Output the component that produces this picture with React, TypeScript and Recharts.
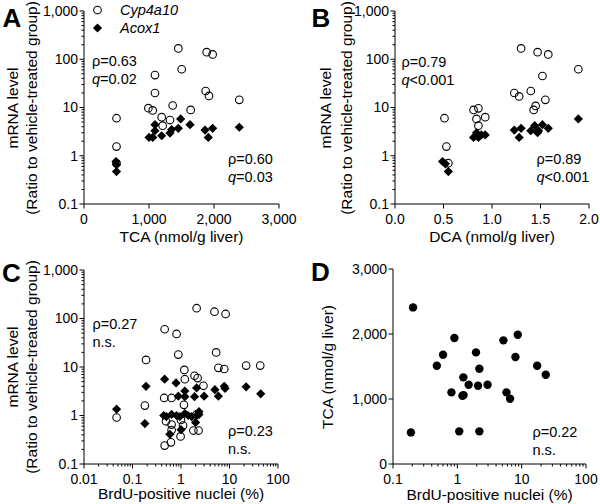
import React from 'react'
import { ScatterChart, Scatter, XAxis, YAxis } from 'recharts'

const FONT = '"Liberation Sans", Arial, Helvetica, sans-serif'

// A: TCA (nmol/g liver) vs mRNA ratio
const aCypTca = [500, 500, 500, 990, 1057, 1092, 1092, 1195, 1210, 1323, 1364, 1451, 1503, 1641, 1872, 1887, 1923, 1979, 2389]
const aCypMrna = [6.0, 1.55, 0.7, 9.7, 8.7, 47, 20, 6.3, 4.2, 5.5, 11, 168, 62, 8.9, 22, 140, 17.4, 126, 14.4]
const aAcoxTca = [492, 500, 500, 1000, 1057, 1092, 1092, 1195, 1323, 1349, 1451, 1487, 1631, 1862, 1912, 1979, 2389]
const aAcoxMrna = [0.76, 0.65, 0.47, 2.4, 2.4, 4.4, 3.3, 2.6, 2.95, 3.5, 3.7, 5.8, 4.4, 3.4, 2.4, 3.7, 3.9]

// B: DCA (nmol/g liver) vs mRNA ratio
const bCypDca = [0.51, 0.53, 0.55, 0.81, 0.86, 0.84, 0.86, 0.93, 1.23, 1.28, 1.3, 1.4, 1.43, 1.45, 1.47, 1.52, 1.55, 1.58, 1.89]
const bCypMrna = [6.0, 1.55, 0.7, 8.9, 9.6, 5.8, 4.2, 6.3, 20, 17, 168, 22, 8.9, 10.8, 140, 45, 14.4, 126, 62]
const bAcoxDca = [0.49, 0.52, 0.55, 0.81, 0.84, 0.86, 0.89, 0.93, 1.23, 1.28, 1.3, 1.4, 1.44, 1.47, 1.48, 1.52, 1.58, 1.89]
const bAcoxMrna = [0.76, 0.68, 0.47, 2.4, 3.0, 2.4, 2.7, 2.7, 3.4, 2.4, 3.7, 3.3, 4.2, 3.0, 3.3, 4.4, 3.7, 5.8]

// C: BrdU-positive nuclei (%) vs mRNA ratio
const cCypBrdu = [0.047, 0.18, 0.19, 0.46, 0.81, 0.88, 2.1, 4.9, 8.3, 5.3, 1.17, 5.9, 7.8, 22, 43, 1.2, 1.9, 2.2, 2.9, 0.45, 0.64, 1.15, 0.49, 0.64, 1.0, 0.64, 1.8, 2.3, 0.98, 0.62, 0.46, 1.1, 2.1]
const cCypMrna = [0.91, 1.6, 14, 60, 48, 18, 163, 138, 124, 20, 8.7, 9.6, 9.1, 10.7, 10.7, 5.6, 6.6, 5.9, 4.1, 2.3, 2.3, 1.66, 0.76, 0.65, 0.81, 0.5, 0.49, 0.49, 0.37, 0.28, 0.24, 0.62, 1.05]
const cAcoxBrdu = [0.047, 0.18, 0.19, 0.46, 0.79, 1.2, 0.88, 1.2, 1.9, 2.1, 3.0, 5.0, 5.9, 7.8, 8.1, 22, 44, 0.44, 0.5, 0.64, 0.81, 0.95, 1.2, 1.4, 1.66, 2.1, 2.35, 0.59, 1.0, 2.35, 2.0]
const cAcoxMrna = [1.35, 0.68, 4.0, 5.6, 4.7, 3.2, 2.5, 2.45, 2.45, 3.7, 2.5, 3.4, 2.5, 4.0, 3.6, 3.9, 2.8, 1.0, 0.95, 1.05, 1.0, 0.95, 1.1, 1.0, 0.95, 1.0, 1.05, 0.41, 0.51, 1.2, 0.72]

// D: BrdU-positive nuclei (%) vs TCA
const dBrdu = [0.19, 0.205, 0.48, 0.6, 0.81, 0.9, 1.07, 1.2, 1.25, 1.24, 1.5, 1.95, 2.1, 2.2, 2.2, 2.95, 5.2, 5.8, 6.6, 8.0, 8.7, 17.4, 23.7]
const dTca = [486, 2409, 1512, 1682, 1102, 1938, 502, 1051, 1060, 1333, 1220, 1717, 1205, 1466, 502, 1220, 1902, 1102, 1005, 1646, 1989, 1512, 1374]

// tick values
const mrnaDecades = [0.1, 1, 10, 100, 1000]
const brduDecadesC = [0.01, 0.1, 1, 10, 100]
const brduDecadesD = [0.1, 1, 10, 100]
const tcaTicks = [0, 1000, 2000, 3000]
const dcaTicks = [0, 0.5, 1, 1.5, 2]

const withMinor = (decades: number[]) => {
  const out: number[] = []
  decades.forEach((d, i) => {
    out.push(d)
    if (i < decades.length - 1) for (let k = 2; k <= 9; k++) out.push(+(d * k).toPrecision(3))
  })
  return out
}

const zip = (xs: number[], ys: number[]) => xs.map((x, i) => ({ x, y: ys[i] }))

const isPow10 = (v: number) => Math.abs(Math.log10(v) - Math.round(Math.log10(v))) < 1e-6
const fmtComma = (v: number) => v.toLocaleString('en-US', { maximumFractionDigits: 2 })
const fmtOne = (v: number) => v.toFixed(1)

const yTick = (fmt: (v: number) => string, log: boolean) => (props: any) => {
  const { x, y, payload } = props
  const v = payload.value
  const major = !log || isPow10(v)
  return (
    <g>
      <line x1={x} y1={y} x2={x - (major ? 4.5 : 2.5)} y2={y} stroke="#000" strokeWidth={1} />
      {major && (
        <text x={x - 6} y={y} dy="0.35em" textAnchor="end" fontSize={14} fontFamily={FONT} fill="#000">
          {fmt(v)}
        </text>
      )}
    </g>
  )
}

const xTick = (fmt: (v: number) => string, log: boolean) => (props: any) => {
  const { x, y, payload } = props
  const v = payload.value
  const major = !log || isPow10(v)
  return (
    <g>
      <line x1={x} y1={y} x2={x} y2={y + (major ? 4.5 : 2.5)} stroke="#000" strokeWidth={1} />
      {major && (
        <text x={x} y={y + 15} dy="0.35em" textAnchor="middle" fontSize={14} fontFamily={FONT} fill="#000">
          {fmt(v)}
        </text>
      )}
    </g>
  )
}

const openCircle = (props: any) => (
  <circle cx={props.cx} cy={props.cy} r={3.8} fill="none" stroke="#000" strokeWidth={1.1} />
)
const filledDiamond = (props: any) => {
  const { cx, cy } = props
  const s = 4.6
  return <path d={`M${cx},${cy - s}L${cx + s},${cy}L${cx},${cy + s}L${cx - s},${cy}Z`} fill="#000" />
}
const filledCircle = (props: any) => <circle cx={props.cx} cy={props.cy} r={4.2} fill="#000" />

const abs = (left: number, top: number, extra: React.CSSProperties = {}): React.CSSProperties => ({
  position: 'absolute',
  left,
  top,
  whiteSpace: 'nowrap',
  ...extra
})

const Note = ({ left, top, lines }: { left: number; top: number; lines: React.ReactNode[] }) => (
  <div style={abs(left, top, { fontSize: 14.5, lineHeight: '17.5px' })}>
    {lines.map((l, i) => (
      <div key={i}>{l}</div>
    ))}
  </div>
)

const YTitle = ({ cx, cy, text, size = 15.5 }: { cx: number; cy: number; text: string; size?: number }) => (
  <div style={abs(cx, cy, { fontSize: size, lineHeight: 1, transform: 'translate(-50%,-50%) rotate(-90deg)' })}>{text}</div>
)

const XTitle = ({ cx, cy, text }: { cx: number; cy: number; text: string }) => (
  <div style={abs(cx, cy, { fontSize: 15.5, lineHeight: 1, transform: 'translate(-50%,-50%)' })}>{text}</div>
)

const Letter = ({ left, top, text }: { left: number; top: number; text: string }) => (
  <div style={abs(left, top, { fontSize: 26, fontWeight: 'bold', lineHeight: 1 })}>{text}</div>
)

const axisProps = { axisLine: { stroke: '#000', strokeWidth: 1 }, tickLine: false, tickSize: 0, tickMargin: 0, interval: 0 as const }

const mrnaAxis = (width: number) => (
  <YAxis
    type="number"
    dataKey="y"
    scale="log"
    domain={[0.1, 1000]}
    ticks={withMinor(mrnaDecades)}
    tick={yTick(fmtComma, true)}
    width={width}
    allowDataOverflow
    {...axisProps}
  />
)

export default function App() {
  const q = <i>q</i>
  return (
    <div style={{ position: 'absolute', left: 0, top: 0, width: 600, height: 504, background: '#fff', fontFamily: FONT, color: '#000' }}>
      {/* A */}
      <div style={abs(0, 0)}>
        <ScatterChart width={300} height={250} margin={{ top: 11, right: 21, bottom: 0, left: 0 }}>
          <XAxis type="number" dataKey="x" domain={[0, 3000]} ticks={tcaTicks} tick={xTick(fmtComma, false)} height={46} {...axisProps} />
          {mrnaAxis(84)}
          <Scatter data={zip(aCypTca, aCypMrna)} shape={openCircle} isAnimationActive={false} />
          <Scatter data={zip(aAcoxTca, aAcoxMrna)} shape={filledDiamond} isAnimationActive={false} />
        </ScatterChart>
      </div>
      {/* B */}
      <div style={abs(300, 0)}>
        <ScatterChart width={300} height={250} margin={{ top: 11, right: 11, bottom: 0, left: 0 }}>
          <XAxis type="number" dataKey="x" domain={[0, 2]} ticks={dcaTicks} tick={xTick(fmtOne, false)} height={46} {...axisProps} />
          {mrnaAxis(95)}
          <Scatter data={zip(bCypDca, bCypMrna)} shape={openCircle} isAnimationActive={false} />
          <Scatter data={zip(bAcoxDca, bAcoxMrna)} shape={filledDiamond} isAnimationActive={false} />
        </ScatterChart>
      </div>
      {/* C */}
      <div style={abs(0, 250)}>
        <ScatterChart width={300} height={254} margin={{ top: 20, right: 22, bottom: 0, left: 0 }}>
          <XAxis type="number" dataKey="x" scale="log" domain={[0.01, 100]} ticks={withMinor(brduDecadesC)} tick={xTick(fmtComma, true)} height={40} allowDataOverflow {...axisProps} />
          {mrnaAxis(84)}
          <Scatter data={zip(cCypBrdu, cCypMrna)} shape={openCircle} isAnimationActive={false} />
          <Scatter data={zip(cAcoxBrdu, cAcoxMrna)} shape={filledDiamond} isAnimationActive={false} />
        </ScatterChart>
      </div>
      {/* D */}
      <div style={abs(300, 250)}>
        <ScatterChart width={300} height={254} margin={{ top: 19, right: 14, bottom: 0, left: 0 }}>
          <XAxis type="number" dataKey="x" scale="log" domain={[0.1, 100]} ticks={withMinor(brduDecadesD)} tick={xTick(fmtComma, true)} height={40} allowDataOverflow {...axisProps} />
          <YAxis type="number" dataKey="y" domain={[0, 3000]} ticks={tcaTicks} tick={yTick(fmtComma, false)} width={93} {...axisProps} />
          <Scatter data={zip(dBrdu, dTca)} shape={filledCircle} isAnimationActive={false} />
        </ScatterChart>
      </div>

      {/* legend */}
      <svg style={abs(90, 2)} width={16} height={34}>
        <circle cx={7.5} cy={8} r={3.8} fill="none" stroke="#000" strokeWidth={1.1} />
        <path d="M7.5,21.4L12.1,26L7.5,30.6L2.9,26Z" fill="#000" />
      </svg>
      <div style={abs(120, 1, { fontSize: 14.5, fontStyle: 'italic', lineHeight: '18px' })}>
        <div>Cyp4a10</div>
        <div>Acox1</div>
      </div>

      <Letter left={2.5} top={5} text="A" />
      <Letter left={311.5} top={5} text="B" />
      <Letter left={2} top={260} text="C" />
      <Letter left={311} top={259} text="D" />

      <YTitle cx={12.5} cy={107.5} text="mRNA level" />
      <YTitle cx={31.5} cy={107.5} text="(Ratio to vehicle-treated group)" />
      <YTitle cx={326} cy={107.5} text="mRNA level" />
      <YTitle cx={346.5} cy={107.5} text="(Ratio to vehicle-treated group)" />
      <YTitle cx={12.5} cy={367} text="mRNA level" />
      <YTitle cx={31.5} cy={367} text="(Ratio to vehicle-treated group)" />
      <YTitle cx={327.5} cy={367} text="TCA (nmol/g liver)" />

      <XTitle cx={181.5} cy={237} text="TCA (nmol/g liver)" />
      <XTitle cx={492} cy={237} text="DCA (nmol/g liver)" />
      <XTitle cx={181} cy={494} text="BrdU-positive nuclei (%)" />
      <XTitle cx={489.5} cy={495} text="BrdU-positive nuclei (%)" />

      <Note left={92} top={53} lines={['ρ=0.63', <>{q}=0.02</>]} />
      <Note left={228} top={151} lines={['ρ=0.60', <>{q}=0.03</>]} />
      <Note left={401.5} top={54} lines={['ρ=0.79', <>{q}&lt;0.001</>]} />
      <Note left={536.5} top={151} lines={['ρ=0.89', <>{q}&lt;0.001</>]} />
      <Note left={92.5} top={316} lines={['ρ=0.27', 'n.s.']} />
      <Note left={228} top={423} lines={['ρ=0.23', 'n.s.']} />
      <Note left={532.5} top={424} lines={['ρ=0.22', 'n.s.']} />
    </div>
  )
}
